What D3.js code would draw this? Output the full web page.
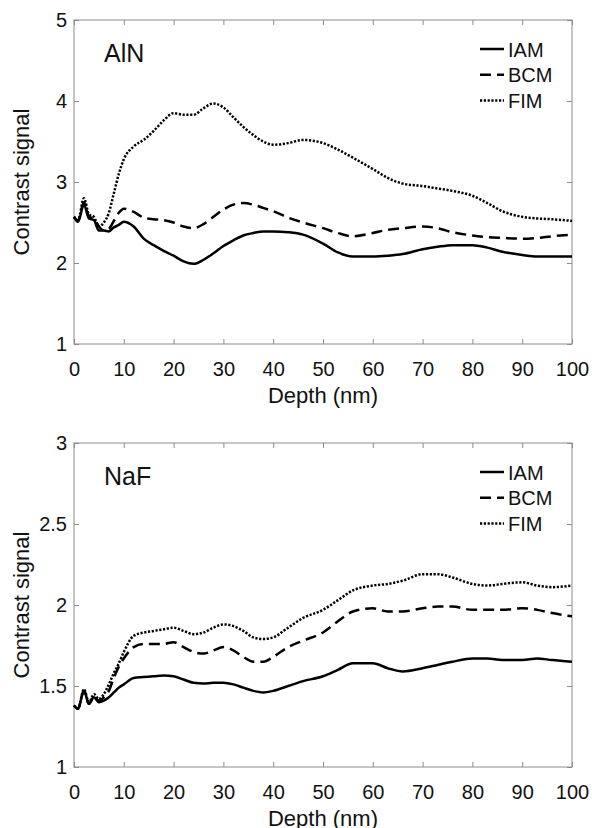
<!DOCTYPE html>
<html>
<head>
<meta charset="utf-8">
<script src="https://cdn.jsdelivr.net/npm/d3@7"></script>
<style>
  body { margin: 0; background: #fff; }
  svg { display: block; font-family: "Liberation Sans", Arial, Helvetica, sans-serif; }
</style>
</head>
<body>
<div id="chart"></div>
<script>
// Datos
const depth = [0, 0.8, 2, 3, 4, 5, 6, 7, 8, 9, 10, 12, 14, 16, 18, 20, 22, 24, 26, 28, 30, 32, 34, 36, 38, 40,
  43, 46, 50, 53, 56, 60, 63, 66, 70, 73, 76, 80, 83, 86, 90, 93, 96, 100];

const alnIAM = [2.57, 2.51, 2.72, 2.55, 2.53, 2.40, 2.40, 2.39, 2.44, 2.47, 2.51, 2.45, 2.30, 2.22, 2.15, 2.09, 2.02, 1.99, 2.04, 2.12, 2.21, 2.28, 2.34, 2.37, 2.39, 2.39,
  2.38, 2.35, 2.24, 2.13, 2.08, 2.08, 2.09, 2.11, 2.17, 2.20, 2.22, 2.22, 2.19, 2.14, 2.10, 2.08, 2.08, 2.08];
const alnBCM = [2.57, 2.52, 2.75, 2.57, 2.55, 2.45, 2.40, 2.42, 2.52, 2.62, 2.67, 2.63, 2.56, 2.54, 2.53, 2.50, 2.45, 2.43, 2.48, 2.57, 2.66, 2.72, 2.74, 2.72, 2.68, 2.64,
  2.56, 2.50, 2.43, 2.37, 2.33, 2.37, 2.41, 2.43, 2.45, 2.43, 2.38, 2.34, 2.32, 2.31, 2.30, 2.31, 2.33, 2.35];
const alnFIM = [2.57, 2.53, 2.80, 2.60, 2.57, 2.45, 2.50, 2.62, 2.86, 3.10, 3.28, 3.44, 3.52, 3.63, 3.76, 3.85, 3.83, 3.83, 3.91, 3.97, 3.92, 3.80, 3.68, 3.58, 3.50, 3.46,
  3.48, 3.52, 3.48, 3.40, 3.30, 3.16, 3.05, 2.98, 2.95, 2.92, 2.89, 2.83, 2.74, 2.64, 2.57, 2.55, 2.54, 2.52];

const nafIAM = [1.38, 1.36, 1.47, 1.39, 1.43, 1.40, 1.41, 1.43, 1.46, 1.49, 1.51, 1.55, 1.555, 1.56, 1.565, 1.56, 1.54, 1.52, 1.515, 1.52, 1.52, 1.51, 1.49, 1.47, 1.46, 1.47,
  1.50, 1.53, 1.56, 1.60, 1.64, 1.64, 1.61, 1.59, 1.61, 1.63, 1.65, 1.67, 1.67, 1.66, 1.66, 1.67, 1.66, 1.65];
const nafBCM = [1.38, 1.36, 1.47, 1.39, 1.44, 1.41, 1.43, 1.47, 1.55, 1.62, 1.67, 1.74, 1.76, 1.76, 1.76, 1.77, 1.74, 1.71, 1.70, 1.72, 1.74, 1.72, 1.68, 1.65, 1.65, 1.68,
  1.74, 1.78, 1.83, 1.90, 1.96, 1.98, 1.96, 1.96, 1.98, 1.99, 1.99, 1.97, 1.97, 1.97, 1.98, 1.97, 1.95, 1.93];
const nafFIM = [1.38, 1.36, 1.48, 1.40, 1.45, 1.42, 1.45, 1.51, 1.58, 1.64, 1.71, 1.81, 1.83, 1.84, 1.85, 1.86, 1.84, 1.82, 1.83, 1.86, 1.88, 1.87, 1.84, 1.80, 1.79, 1.80,
  1.86, 1.92, 1.97, 2.03, 2.09, 2.12, 2.13, 2.15, 2.19, 2.19, 2.17, 2.13, 2.12, 2.13, 2.14, 2.12, 2.11, 2.12];

const seriesNames = ["IAM", "BCM", "FIM"];
const dashes = [null, "11,6", "2.2,1.6"];
const xTicks = [0, 10, 20, 30, 40, 50, 60, 70, 80, 90, 100];
const alnYTicks = [1, 2, 3, 4, 5];
const nafYTicks = [1, 1.5, 2, 2.5, 3];

const width = 592;
const height = 828;

const svg = d3.select("#chart")
  .append("svg")
    .attr("width", width)
    .attr("height", height);

// Dibuja un panel
function drawPanel(top, bottom, yDomain, yTicks, label, values) {
  const left = 74, right = 572;
  const frame = "#8c8c8c";

  const x = d3.scaleLinear().domain([0, 100]).range([left, right]);
  const y = d3.scaleLinear().domain(yDomain).range([bottom, top]);

  const g = svg.append("g");

  // ejes con marcas hacia dentro
  const fmt = d => String(d);
  g.append("g")
    .attr("transform", `translate(0,${bottom})`)
    .call(d3.axisBottom(x).tickValues(xTicks).tickFormat(fmt).tickSizeInner(-5).tickSizeOuter(0).tickPadding(18))
    .call(a => a.select(".domain").remove());
  g.append("g")
    .attr("transform", `translate(0,${top})`)
    .call(d3.axisTop(x).tickValues(xTicks).tickFormat("").tickSizeInner(-5).tickSizeOuter(0))
    .call(a => a.select(".domain").remove());
  g.append("g")
    .attr("transform", `translate(${left},0)`)
    .call(d3.axisLeft(y).tickValues(yTicks).tickFormat(fmt).tickSizeInner(-5).tickSizeOuter(0).tickPadding(7))
    .call(a => a.select(".domain").remove());
  g.append("g")
    .attr("transform", `translate(${right},0)`)
    .call(d3.axisRight(y).tickValues(yTicks).tickFormat("").tickSizeInner(-5).tickSizeOuter(0))
    .call(a => a.select(".domain").remove());

  g.selectAll(".tick line").attr("stroke", frame);
  g.selectAll(".tick text")
    .attr("fill", "#111")
    .attr("font-size", 20)
    .attr("font-family", "'Liberation Sans', Arial, sans-serif");

  g.append("rect")
    .attr("x", left).attr("y", top)
    .attr("width", right - left).attr("height", bottom - top)
    .attr("fill", "none")
    .attr("stroke", frame)
    .attr("stroke-width", 1);

  // curvas
  const line = d3.line()
    .x((d, i) => x(depth[i]))
    .y(d => y(d))
    .curve(d3.curveMonotoneX);

  values.forEach((vals, k) => {
    g.append("path")
      .datum(vals)
      .attr("fill", "none")
      .attr("stroke", "#000")
      .attr("stroke-width", 2.5)
      .attr("stroke-dasharray", dashes[k])
      .attr("d", line);
  });

  // etiqueta del material
  g.append("text")
    .attr("x", left + 30)
    .attr("y", top + 42)
    .attr("font-size", 25)
    .attr("fill", "#111")
    .text(label);

  // leyenda
  const leg = g.append("g");
  seriesNames.forEach((name, k) => {
    const ly = top + 29 + k * 25.7;
    leg.append("line")
      .attr("x1", 480).attr("x2", 504)
      .attr("y1", ly).attr("y2", ly)
      .attr("stroke", "#000")
      .attr("stroke-width", 2.5)
      .attr("stroke-dasharray", dashes[k]);
    leg.append("text")
      .attr("x", 508)
      .attr("y", ly + 7.5)
      .attr("font-size", 20)
      .attr("fill", "#111")
      .text(name);
  });

  // títulos de ejes
  g.append("text")
    .attr("x", (left + right) / 2)
    .attr("y", bottom + 59)
    .attr("text-anchor", "middle")
    .attr("font-size", 22)
    .attr("fill", "#111")
    .text("Depth (nm)");

  g.append("text")
    .attr("transform", `translate(29,${(top + bottom) / 2}) rotate(-90)`)
    .attr("text-anchor", "middle")
    .attr("font-size", 22)
    .attr("fill", "#111")
    .text("Contrast signal");
}

drawPanel(20, 344, [1, 5], alnYTicks, "AlN", [alnIAM, alnBCM, alnFIM]);
drawPanel(443, 767, [1, 3], nafYTicks, "NaF", [nafIAM, nafBCM, nafFIM]);
</script>
</body>
</html>
